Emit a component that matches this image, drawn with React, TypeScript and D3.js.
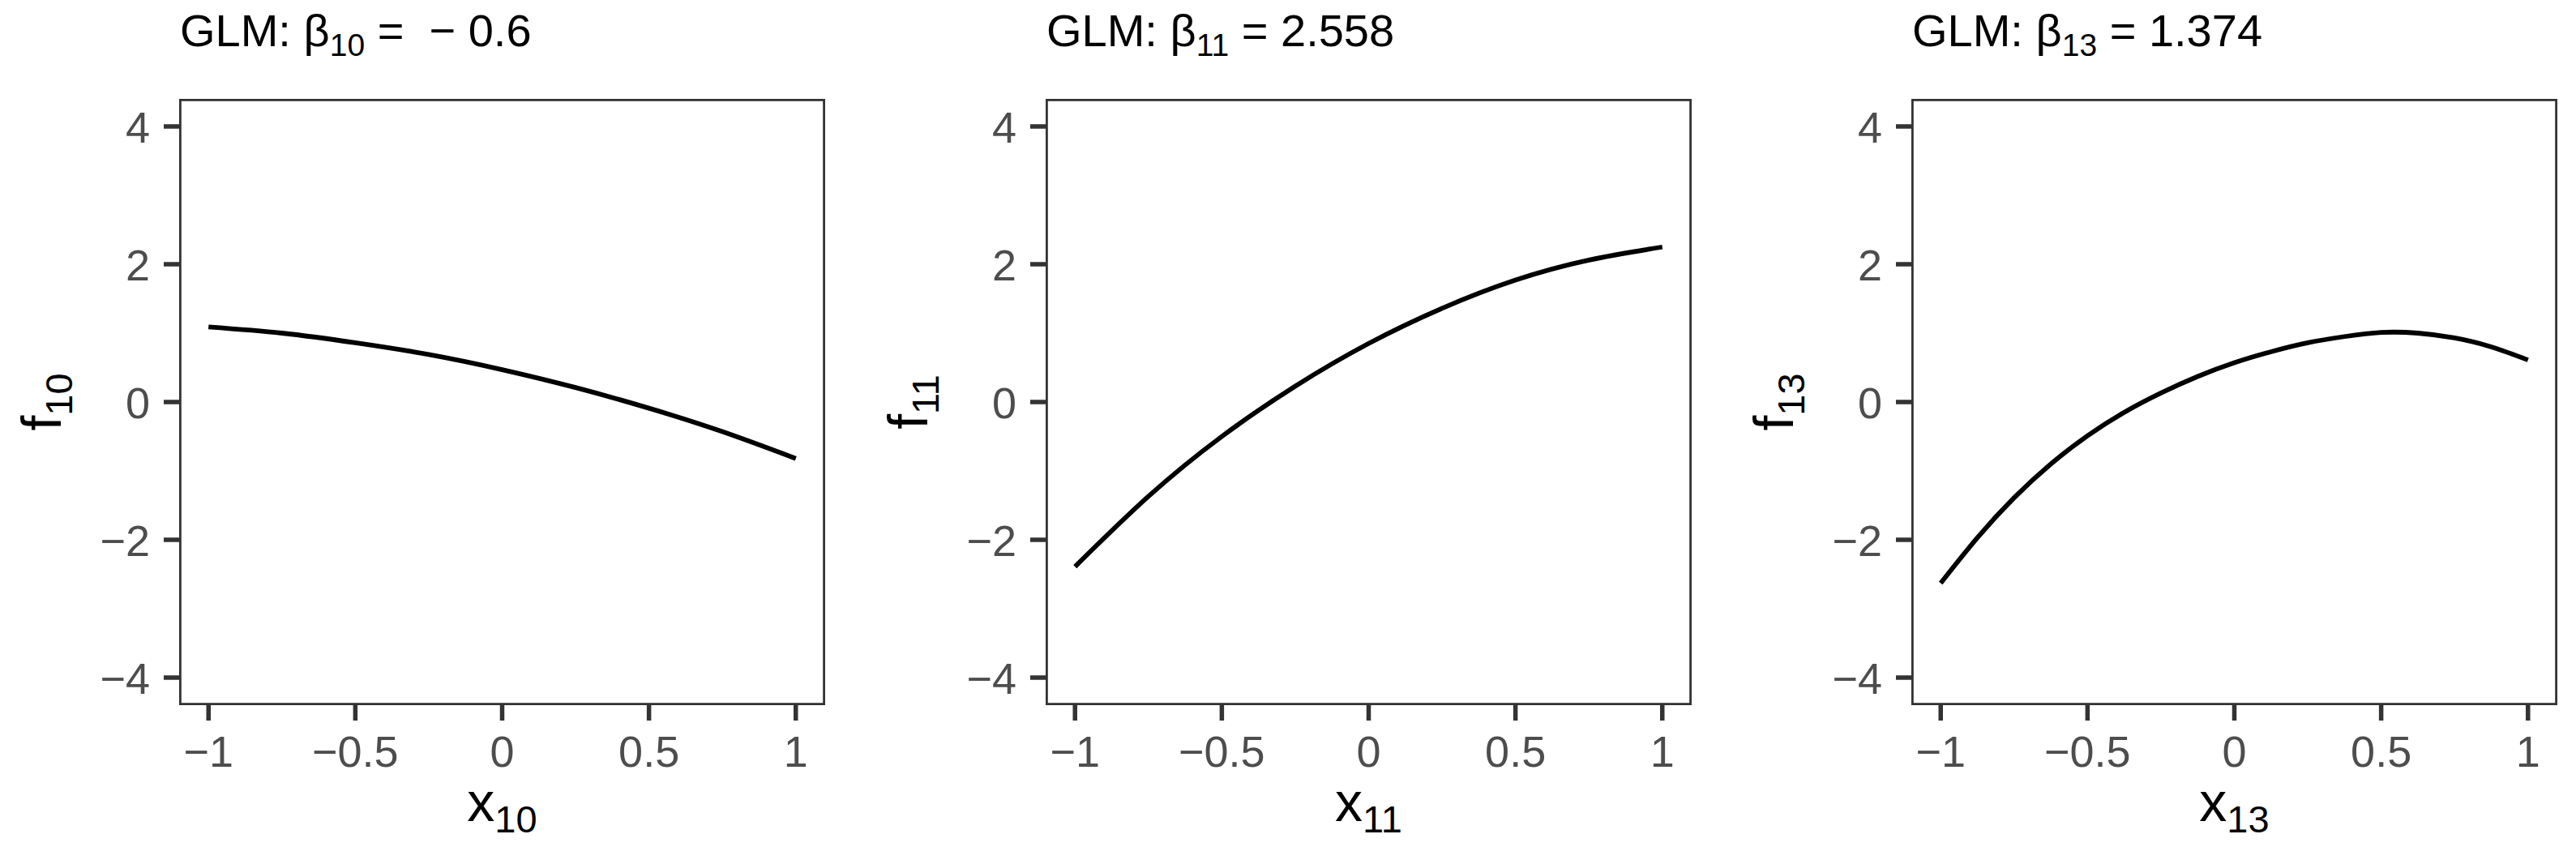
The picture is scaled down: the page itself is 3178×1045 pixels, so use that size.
import React from "react";
import * as d3 from "d3";

// ---- data ----
const x10 = [-1, -0.75, -0.5, -0.25, 0, 0.25, 0.5, 0.75, 1];
const f10 = [1.09, 1.0, 0.86, 0.69, 0.47, 0.21, -0.09, -0.43, -0.82];
const x11 = [-1, -0.75, -0.5, -0.25, 0, 0.25, 0.5, 0.75, 1];
const f11 = [-2.39, -1.37, -0.5, 0.23, 0.85, 1.36, 1.77, 2.06, 2.25];
const x13 = [-1, -0.875, -0.75, -0.625, -0.5, -0.375, -0.25, -0.125, 0, 0.125, 0.25, 0.375, 0.5, 0.625, 0.75, 0.875, 1];
const f13 = [-2.63, -1.97, -1.39, -0.9, -0.49, -0.15, 0.13, 0.37, 0.57, 0.73, 0.86, 0.95, 1.01, 1.0, 0.93, 0.8, 0.61];

const subscripts = ["10", "11", "13"];
const betaLabels = [" =  \u2212 0.6", " = 2.558", " = 1.374"];
const xTicks = [-1, -0.5, 0, 0.5, 1];
const xTickLabels = ["\u22121", "\u22120.5", "0", "0.5", "1"];
const yTicks = [-4, -2, 0, 2, 4];
const yTickLabels = ["\u22124", "\u22122", "0", "2", "4"];
const seriesX = [x10, x11, x13];
const seriesY = [f10, f11, f13];

// ---- layout ----
const W = 3178;
const H = 1045;
const panelLefts = [221, 1290, 2358];
const panelW = 797;
const panelTop = 122;
const panelBottom = 870;
const FONT = "'Liberation Sans', Arial, Helvetica, sans-serif";

function Panel({ idx }: { idx: number }) {
  const left = panelLefts[idx];
  const x = d3.scaleLinear().domain([-1.1, 1.1]).range([left, left + panelW]);
  const y = d3.scaleLinear().domain([-4.4, 4.4]).range([panelBottom, panelTop]);
  const pts: [number, number][] = seriesX[idx].map((xv, i) => [xv, seriesY[idx][i]]);
  const line = d3
    .line<[number, number]>()
    .x((d) => x(d[0]))
    .y((d) => y(d[1]))
    .curve(d3.curveNatural);
  const sub = subscripts[idx];
  const cx = left + panelW / 2;
  const cy = (panelTop + panelBottom) / 2;
  return (
    <g>
      {/* title */}
      <text
        x={left + 1}
        y={57}
        fontSize={56}
        fill="#000"
        fontFamily={FONT}
        style={{ whiteSpace: "pre" }}
      >
        {"GLM: \u03B2"}
        <tspan fontSize={39} dy={12}>
          {sub}
        </tspan>
        <tspan dy={-12}>{betaLabels[idx]}</tspan>
      </text>
      {/* panel background */}
      <rect x={left} y={panelTop} width={panelW} height={panelBottom - panelTop} fill="#fff" />
      {/* curve */}
      <path d={line(pts) || ""} fill="none" stroke="#000" strokeWidth={5.8} />
      {/* border */}
      <rect
        x={left + 1.4}
        y={panelTop + 1.4}
        width={panelW - 2.8}
        height={panelBottom - panelTop - 2.8}
        fill="none"
        stroke="#333333"
        strokeWidth={2.8}
      />
      {/* x ticks */}
      {xTicks.map((t, i) => (
        <g key={"xt" + i}>
          <line x1={x(t)} x2={x(t)} y1={panelBottom} y2={panelBottom + 19} stroke="#333333" strokeWidth={5.5} />
          <text x={x(t)} y={946} textAnchor="middle" fontSize={54} fill="#4D4D4D" fontFamily={FONT}>
            {xTickLabels[i]}
          </text>
        </g>
      ))}
      {/* y ticks */}
      {yTicks.map((t, i) => (
        <g key={"yt" + i}>
          <line x1={left - 19} x2={left} y1={y(t)} y2={y(t)} stroke="#333333" strokeWidth={5.5} />
          <text
            x={left - 36}
            y={y(t) + 19.5}
            textAnchor="end"
            fontSize={54}
            fill="#4D4D4D"
            fontFamily={FONT}
          >
            {yTickLabels[i]}
          </text>
        </g>
      ))}
      {/* x axis title */}
      <text x={cx} y={1013} textAnchor="middle" fontSize={68} fill="#000" fontFamily={FONT}>
        x
        <tspan fontSize={47} dy={14}>
          {sub}
        </tspan>
      </text>
      {/* y axis title */}
      <text
        transform={`translate(${left - 146},${cy}) rotate(-90)`}
        textAnchor="middle"
        fontSize={68}
        fill="#000"
        fontFamily={FONT}
      >
        f
        <tspan fontSize={47} dy={14}>
          {sub}
        </tspan>
      </text>
    </g>
  );
}

export default function App() {
  return (
    <svg
      width={W}
      height={H}
      viewBox={`0 0 ${W} ${H}`}
      style={{ position: "absolute", left: 0, top: 0, background: "#fff" }}
    >
      <rect x={0} y={0} width={W} height={H} fill="#fff" />
      {[0, 1, 2].map((i) => (
        <Panel key={i} idx={i} />
      ))}
    </svg>
  );
}
